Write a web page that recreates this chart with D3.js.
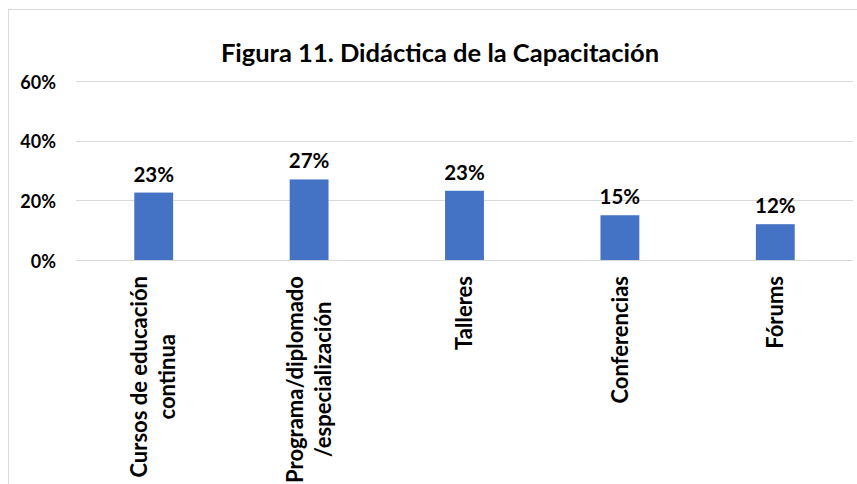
<!DOCTYPE html>
<html>
<head>
<meta charset="utf-8">
<script src="https://cdn.jsdelivr.net/npm/d3@7"></script>
<style>
  body { margin: 0; background: #fff; }
  text { font-family: Lato, "Open Sans", sans-serif; font-weight: bold; fill: #000; }
</style>
</head>
<body>
<div id="chart"></div>
<script>
// data
var categories = [
  ["Cursos de educación", "continua"],
  ["Programa/diplomado", "/especialización"],
  ["Talleres"],
  ["Conferencias"],
  ["Fórums"]
];
var values = [0.226, 0.27, 0.232, 0.15, 0.12];
var yTicks = [0, 0.2, 0.4, 0.6];
var title = "Figura 11. Didáctica de la Capacitación";

var W = 857, H = 484;
var plot = { left: 76, right: 853, top: 81, bottom: 260 };

var svg = d3.select( "#chart" ).append( "svg" )
  .attr( "width", W )
  .attr( "height", H );

// chart frame (cropped at the right and bottom like the source)
svg.append( "rect" )
  .attr( "x", 8.5 ).attr( "y", 9.5 )
  .attr( "width", W + 20 ).attr( "height", H + 20 )
  .attr( "fill", "#fff" )
  .attr( "stroke", "#d9d9d9" );

var x = d3.scaleBand()
  .domain( d3.range( categories.length ) )
  .range( [plot.left, plot.right] )
  .paddingInner( 0.75 )
  .paddingOuter( 0.375 );

var y = d3.scaleLinear()
  .domain( [0, 0.6] )
  .range( [plot.bottom, plot.top] );

var pct = d3.format( ".0%" );

// gridlines
svg.append( "g" )
  .selectAll( "line" )
  .data( yTicks )
  .enter().append( "line" )
  .attr( "x1", plot.left ).attr( "x2", plot.right )
  .attr( "y1", function ( d ) { return Math.round( y( d ) ) + 0.5; } )
  .attr( "y2", function ( d ) { return Math.round( y( d ) ) + 0.5; } )
  .attr( "stroke", "#d9d9d9" )
  .attr( "stroke-width", 1 );

// y axis labels
var yAxis = d3.axisLeft( y )
  .tickValues( yTicks )
  .tickFormat( pct )
  .tickSize( 0 )
  .tickPadding( 0 );

var gy = svg.append( "g" )
  .attr( "transform", "translate(" + 56 + ",0)" )
  .call( yAxis );
gy.select( ".domain" ).remove();
gy.selectAll( "text" )
  .style( "font-family", "Lato, sans-serif" )
  .style( "font-weight", "bold" )
  .style( "font-size", "18px" )
  .attr( "fill", "#000" )
  .attr( "dy", "0.4em" );

// bars
svg.append( "g" )
  .selectAll( "rect" )
  .data( values )
  .enter().append( "rect" )
  .attr( "x", function ( d, i ) { return x( i ); } )
  .attr( "width", x.bandwidth() )
  .attr( "y", function ( d ) { return y( d ); } )
  .attr( "height", function ( d ) { return y( 0 ) - y( d ); } )
  .attr( "fill", "#4472c4" );

// value labels
svg.append( "g" )
  .selectAll( "text" )
  .data( values )
  .enter().append( "text" )
  .attr( "x", function ( d, i ) { return x( i ) + x.bandwidth() / 2; } )
  .attr( "y", function ( d ) { return y( d ) - 11; } )
  .attr( "text-anchor", "middle" )
  .style( "font-size", "20.5px" )
  .text( function ( d ) { return pct( d ); } );

// category labels, rotated, block top at y = 276, lines centred
var catG = svg.append( "g" );
categories.forEach( function ( lines, i ) {
  var cx = x( i ) + x.bandwidth() / 2;
  var lineH = 28;
  var t = catG.append( "text" )
    .attr( "text-anchor", "middle" )
    .style( "font-size", "22px" );
  lines.forEach( function ( s, k ) {
    t.append( "tspan" )
      .attr( "x", 0 )
      .attr( "y", ( k - ( lines.length - 1 ) / 2 ) * lineH )
      .attr( "dy", "0.35em" )
      .text( s );
  } );
  var maxLen = 0;
  t.selectAll( "tspan" ).each( function () {
    maxLen = Math.max( maxLen, this.getComputedTextLength() );
  } );
  t.attr( "transform", "translate(" + cx + "," + ( 276 + maxLen / 2 ) + ") rotate(-90)" );
} );

// title
svg.append( "text" )
  .attr( "x", 440 )
  .attr( "y", 62 )
  .attr( "text-anchor", "middle" )
  .style( "font-size", "25.5px" )
  .text( title );
</script>
</body>
</html>
